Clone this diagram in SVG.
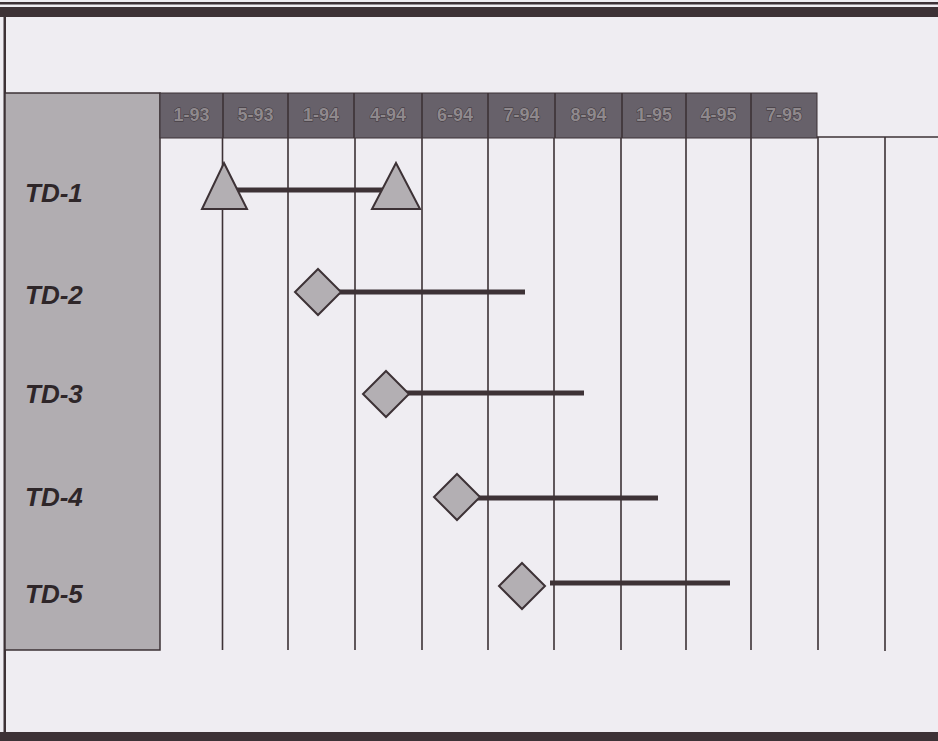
<svg xmlns="http://www.w3.org/2000/svg" width="938" height="741" viewBox="0 0 938 741">
<style>
.bg{fill:#efedf2}
.frame{fill:#3d3236}
.grid{stroke:#3d3236;stroke-width:1.6;fill:none}
.hdr{fill:#67616a;stroke:#3d3236;stroke-width:1}
.hdrtxt{font-family:"Liberation Sans",Arial,sans-serif;font-weight:bold;font-size:18px;fill:#8f898d;stroke:#3a3236;stroke-width:0.9;paint-order:stroke;text-anchor:middle}
.lbl{font-family:"Liberation Sans",Arial,sans-serif;font-weight:bold;font-style:italic;font-size:26px;fill:#2e2629}
.side{fill:#b1adb1;stroke:#3d3236;stroke-width:1.5}
.mark{fill:#b3afb3;stroke:#3d3236;stroke-width:2;stroke-linejoin:miter}
.bar{stroke:#3d3236;stroke-width:5;fill:none}
</style>
<rect class="bg" x="0" y="0" width="938" height="741"/>
<g id="frame">
<rect class="frame" x="0" y="2" width="938" height="2.5"/>
<rect class="frame" x="0" y="7" width="938" height="10"/>
<rect class="frame" x="3.5" y="7" width="2.5" height="730"/>
<rect class="frame" x="0" y="732" width="938" height="9"/>
</g>
<g id="side-column">
<rect class="side" x="5" y="93" width="155" height="557"/>
</g>
<g id="header">
<rect class="hdr" x="160" y="93" width="657" height="45"/>
<path class="grid" d="M223 93V138M288 93V138M354 93V138M422 93V138M488 93V138M555 93V138M622 93V138M686 93V138M751 93V138"/>
<text class="hdrtxt" x="191.5" y="121">1-93</text>
<text class="hdrtxt" x="255.5" y="121">5-93</text>
<text class="hdrtxt" x="321" y="121">1-94</text>
<text class="hdrtxt" x="388" y="121">4-94</text>
<text class="hdrtxt" x="455" y="121">6-94</text>
<text class="hdrtxt" x="521.5" y="121">7-94</text>
<text class="hdrtxt" x="588.5" y="121">8-94</text>
<text class="hdrtxt" x="654" y="121">1-95</text>
<text class="hdrtxt" x="718.5" y="121">4-95</text>
<text class="hdrtxt" x="784" y="121">7-95</text>
</g>
<g id="grid">
<path class="grid" d="M817 137H938"/>
<path class="grid" d="M222.5 138V650M288 138V650M355 138V650M422 138V650M488 138V650M554 138V650M621 138V650M686 138V650M751 138V650M818 137V650M885 137V651"/>
</g>
<g id="labels">
<text class="lbl" x="25" y="202">TD-1</text>
<text class="lbl" x="25" y="304">TD-2</text>
<text class="lbl" x="25" y="403">TD-3</text>
<text class="lbl" x="25" y="506">TD-4</text>
<text class="lbl" x="25" y="603">TD-5</text>
</g>
<g id="connectors">
<path class="bar" d="M236 190H384"/>
<path class="bar" d="M338 292H525"/>
<path class="bar" d="M404 393H584"/>
<path class="bar" d="M476 498H658"/>
<path class="bar" d="M550 583H730"/>
</g>
<g id="td1-start"><polygon class="mark" points="224,163 247,209 202,209"/></g>
<g id="td1-end"><polygon class="mark" points="396,163 420,209 372,209"/></g>
<g id="td2"><polygon class="mark" points="318,269 341,292 318,315 295,292"/></g>
<g id="td3"><polygon class="mark" points="386,371 409,394 386,417 363,394"/></g>
<g id="td4"><polygon class="mark" points="457,474 480,497 457,520 434,497"/></g>
<g id="td5"><polygon class="mark" points="522,563 545,586 522,609 499,586"/></g>
</svg>
